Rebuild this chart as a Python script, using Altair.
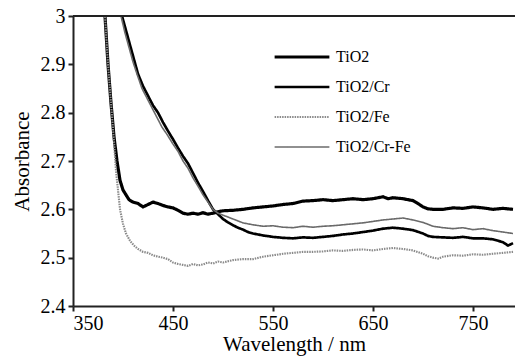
import altair as alt
import pandas as pd

series = ["TiO2", "TiO2/Cr", "TiO2/Fe", "TiO2/Cr-Fe"]

tio2_wl = [380, 382, 385, 388, 391, 394, 397, 400, 403, 406, 410, 415, 420, 425, 430, 435, 440, 445,
           450, 455, 460, 465, 470, 475, 480, 485, 490, 495, 500, 510, 520, 530, 540, 550, 560, 570,
           580, 590, 600, 610, 620, 630, 640, 650, 660, 665, 670, 680, 690, 695, 700, 705, 710, 720,
           730, 740, 750, 760, 770, 780, 790]
tio2_abs = [3.05, 3.0, 2.9, 2.82, 2.75, 2.70, 2.66, 2.64, 2.63, 2.62, 2.615, 2.612, 2.605, 2.61, 2.615,
            2.612, 2.608, 2.605, 2.603, 2.598, 2.592, 2.59, 2.592, 2.59, 2.593, 2.59, 2.592, 2.595,
            2.597, 2.598, 2.6, 2.603, 2.605, 2.607, 2.61, 2.612, 2.617, 2.618, 2.62, 2.618, 2.62,
            2.622, 2.62, 2.622, 2.626, 2.622, 2.624, 2.622, 2.618, 2.612, 2.605, 2.601, 2.6, 2.6,
            2.603, 2.602, 2.605, 2.603, 2.6, 2.602, 2.6]

cr_wl = [396, 399, 403, 407, 411, 415, 420, 425, 430, 435, 440, 445, 450, 455, 460, 465, 470, 475,
         480, 485, 490, 495, 500, 505, 510, 515, 520, 525, 530, 540, 550, 560, 570, 580, 590, 600,
         610, 620, 630, 640, 650, 660, 670, 680, 690, 700, 705, 710, 720, 730, 740, 750, 760, 770,
         780, 785, 790]
cr_abs = [3.05, 3.0, 2.97, 2.94, 2.91, 2.88, 2.855, 2.835, 2.815, 2.80, 2.78, 2.762, 2.745, 2.727,
          2.71, 2.695, 2.675, 2.655, 2.637, 2.618, 2.60, 2.59, 2.58, 2.573, 2.567, 2.562, 2.558,
          2.553, 2.55, 2.546, 2.543, 2.541, 2.54, 2.542, 2.541, 2.543, 2.545, 2.548, 2.55, 2.553,
          2.556, 2.56, 2.562, 2.56, 2.557, 2.55, 2.545, 2.543, 2.542, 2.541, 2.543, 2.54, 2.54,
          2.538, 2.532, 2.525, 2.53]

fe_wl = [380, 382, 385, 388, 391, 393, 395, 397, 400, 403, 407, 411, 415, 420, 425, 430, 435, 440,
         445, 450, 455, 460, 465, 470, 475, 480, 485, 490, 495, 500, 510, 520, 530, 540, 550, 560,
         570, 580, 590, 600, 610, 620, 630, 640, 650, 660, 670, 680, 690, 700, 705, 710, 715, 720,
         730, 740, 750, 760, 770, 780, 790]
fe_abs = [3.05, 3.0, 2.9, 2.82, 2.74, 2.68, 2.64, 2.60, 2.57, 2.55, 2.535, 2.525, 2.518, 2.512,
          2.51, 2.505, 2.502, 2.5, 2.497, 2.49, 2.487, 2.485, 2.483, 2.487, 2.484, 2.486, 2.49,
          2.488, 2.492, 2.49, 2.495, 2.497, 2.497, 2.502, 2.505, 2.508, 2.51, 2.512, 2.512, 2.513,
          2.515, 2.514, 2.516, 2.517, 2.515, 2.518, 2.52, 2.518, 2.515, 2.508, 2.503, 2.5, 2.498,
          2.502, 2.505, 2.504, 2.507, 2.506, 2.508, 2.51, 2.512]

crfe_wl = [395, 398, 402, 406, 410, 414, 419, 424, 429, 434, 439, 444, 450, 455, 460, 465, 470, 475,
           480, 485, 490, 495, 500, 505, 510, 515, 520, 530, 540, 550, 560, 570, 580, 590, 600, 610,
           620, 630, 640, 650, 660, 670, 680, 690, 700, 710, 720, 730, 740, 750, 760, 770, 780, 790]
crfe_abs = [3.05, 3.0, 2.965, 2.935, 2.905, 2.88, 2.85, 2.83, 2.81, 2.79, 2.77, 2.755, 2.735, 2.72,
            2.70, 2.685, 2.665, 2.648, 2.63, 2.615, 2.60, 2.592, 2.588, 2.584, 2.58, 2.576, 2.572,
            2.568, 2.565, 2.566, 2.563, 2.562, 2.565, 2.563, 2.565, 2.566, 2.568, 2.57, 2.572,
            2.575, 2.578, 2.58, 2.582, 2.578, 2.573, 2.565, 2.562, 2.56, 2.562, 2.558, 2.56, 2.556,
            2.553, 2.55]

x_ticks = [350, 450, 550, 650, 750]
y_ticks = [2.4, 2.5, 2.6, 2.7, 2.8, 2.9, 3.0]

rows = []
for name, wl, ab in [("TiO2", tio2_wl, tio2_abs), ("TiO2/Cr", cr_wl, cr_abs),
                     ("TiO2/Fe", fe_wl, fe_abs), ("TiO2/Cr-Fe", crfe_wl, crfe_abs)]:
    for w, a in zip(wl, ab):
        rows.append({"series": name, "wl": w, "abs": a})
df = pd.DataFrame(rows)

FONT = "Times New Roman, Liberation Serif, serif"

leg = alt.Legend(title=None, orient="none", legendX=200, legendY=32, symbolType="stroke",
                 symbolSize=3000, labelFont=FONT, labelFontSize=16, labelColor="black",
                 clipHeight=18, rowPadding=12, labelOffset=5, padding=0)

axis_style = dict(labelFont=FONT, titleFont=FONT, labelFontSize=20, titleFontSize=21,
                  labelColor="black", titleColor="black", titleFontWeight="normal",
                  domainColor="#222222", domainWidth=2, tickColor="#222222", tickWidth=2,
                  tickSize=5, grid=False)

x_enc = alt.X("wl:Q", scale=alt.Scale(domain=[350, 792], nice=False, zero=False),
              axis=alt.Axis(values=x_ticks, title="Wavelength / nm", labelPadding=2,
                            titlePadding=0, **axis_style))
y_enc = alt.Y("abs:Q", scale=alt.Scale(domain=[2.4, 3.0], nice=False, zero=False),
              axis=alt.Axis(values=y_ticks, title="Absorbance", labelPadding=3, titlePadding=8,
                            labelExpr="datum.value == 3 ? '3' : format(datum.value, '.1f')",
                            **axis_style))

lines = alt.Chart(df).mark_line(clip=True, strokeCap="butt").encode(
    x=x_enc,
    y=y_enc,
    color=alt.Color("series:N", scale=alt.Scale(domain=series,
                    range=["#000000", "#000000", "#8a8a8a", "#6a6a6a"]), legend=leg),
    strokeWidth=alt.StrokeWidth("series:N", scale=alt.Scale(domain=series, range=[3.2, 1.6, 1.4, 1.4]),
                                legend=leg),
    strokeDash=alt.StrokeDash("series:N", scale=alt.Scale(domain=series,
                              range=[[1, 0], [1, 0], [1.5, 1], [1, 0]]), legend=leg),
    order=alt.Order("wl:Q"),
)

top_vals = [3.0]
top = alt.Chart(pd.DataFrame({"y": top_vals})).mark_rule(color="#222222", strokeWidth=2).encode(
    y=alt.Y("y:Q", scale=alt.Scale(domain=[2.4, 3.0], nice=False, zero=False))
)

chart = alt.layer(lines, top).properties(
    width=442, height=290,
    padding={"left": 73, "top": 16, "right": 0, "bottom": 51},
    autosize=alt.AutoSizeParams(type="none"),
    background="white",
).configure(font=FONT).configure_view(stroke=None)

chart.save("out.html", embed_options={"renderer": "svg", "actions": False})
